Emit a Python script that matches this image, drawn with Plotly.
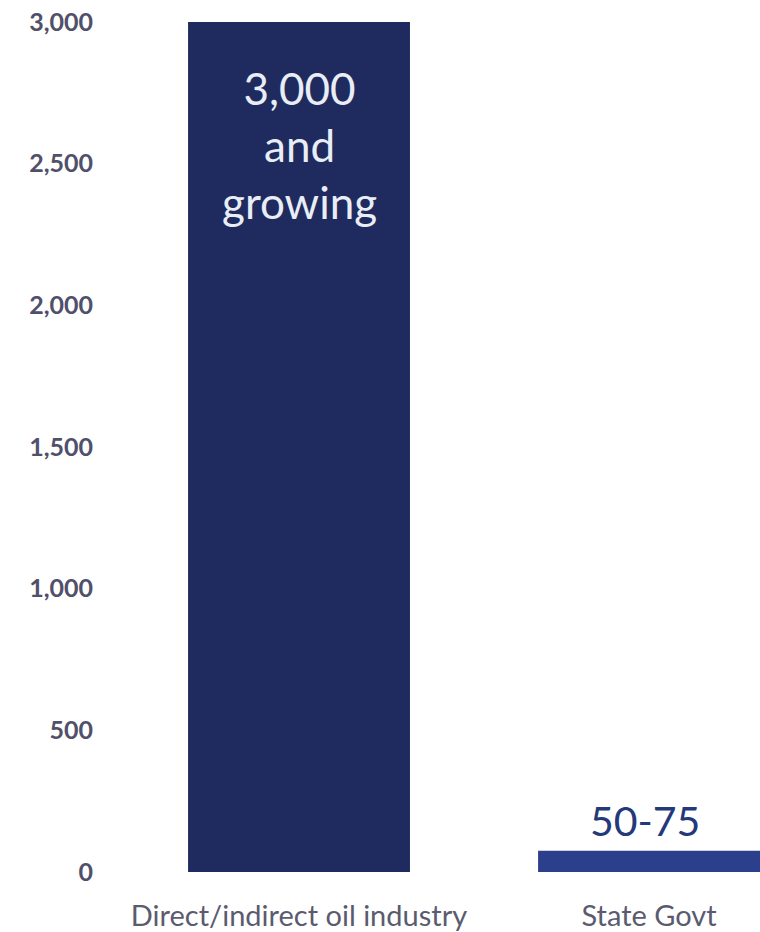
import plotly.graph_objects as go

categories = ["Direct/indirect oil industry", "State Govt"]
values = [3000, 75]
bar_labels = ["3,000<br>and<br>growing", "50-75"]
tick_vals = [0, 500, 1000, 1500, 2000, 2500, 3000]
tick_text = ["0", "500", "1,000", "1,500", "2,000", "2,500", "3,000"]

bar_colors = ["#1f2b5e", "#2b3f8c"]

fig = go.Figure(
    go.Bar(
        x=categories,
        y=values,
        marker=dict(color=bar_colors, line=dict(width=0)),
        width=0.634,
        hoverinfo="skip",
    )
)

# value labels: inside the tall bar, above the short one
fig.add_annotation(
    x=categories[0], y=values[0], xref="x", yref="y",
    text=bar_labels[0], showarrow=False,
    yanchor="top", yshift=-38,
    font=dict(family="Lato", size=44, color="#e9edf5"),
    align="center",
)
fig.add_annotation(
    x=categories[1], y=values[1], xref="x", yref="y",
    text=bar_labels[1], showarrow=False,
    yanchor="bottom", yshift=4, xshift=-4,
    font=dict(family="Lato", size=41, color="#23397a"),
)

fig.update_layout(
    width=760, height=932,
    margin=dict(l=124, r=0, t=22, b=60),
    paper_bgcolor="white", plot_bgcolor="white",
    showlegend=False,
    font=dict(family="Lato"),
)
fig.update_xaxes(
    range=[-0.5, 1.317],
    showgrid=False, zeroline=False, showline=False, ticks="",
    ticklabelstandoff=24,
    tickfont=dict(family="Lato", size=29, color="#5b5b70"),
)
fig.update_yaxes(
    range=[0, 3000],
    tickvals=tick_vals, ticktext=tick_text,
    showgrid=False, zeroline=False, showline=False, ticks="",
    ticklabelstandoff=30,
    tickfont=dict(family="Lato", size=25, color="#50506a", weight="bold"),
)

fig.write_html("out.html")
